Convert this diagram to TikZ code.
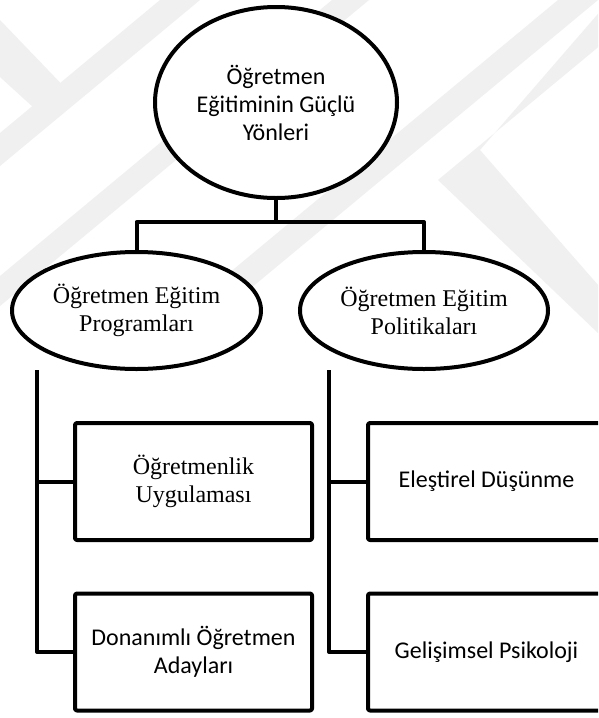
\documentclass[tikz,border=0pt]{standalone}
\usepackage{fontspec}
\setmainfont{Liberation Serif}
\newfontfamily\calib{Carlito}
\usetikzlibrary{shapes.geometric}
\begin{document}
\begin{tikzpicture}[x=1pt,y=-1pt,line width=4pt,line join=round,
  oval/.style={ellipse,draw,fill=white,inner sep=0pt,align=center},
  boxnode/.style={draw,fill=white,rounded corners=2pt,minimum width=237pt,minimum height=117pt,inner sep=0pt,align=center},
  sanstext/.style={font=\calib\fontsize{24}{28}\selectfont},
  seriftext/.style={font=\fontsize{24}{28}\selectfont},
  wm/.style={fill=black!6,draw=none}]
\useasboundingbox (0,0) rectangle (598,718);
\fill[white] (0,0) rectangle (598,718);
% faint watermark bands (upper part only)
\begin{scope}
\clip (0,0) rectangle (598,333);
\fill[wm] (160,0) -- (200,0) -- (0,166) -- (0,133) -- cycle;
\fill[wm] (0,20) -- (72,95) -- (45,118) -- (0,77) -- cycle;
\fill[wm] (332,0) -- (369,0) -- (0,306) -- (0,276) -- cycle;
\fill[wm] (558,0) -- (598,0) -- (198,332) -- (158,332) -- cycle;
\fill[wm] (610,0) -- (655,0) -- (438,180) -- (598,333) -- (640,333) -- (480,150) -- cycle;
\end{scope}
% nodes
\node[oval,sanstext,minimum width=242pt,minimum height=191pt] (top) at (276,102.5) {Öğretmen\\Eğitiminin Güçlü\\Yönleri};
\node[oval,seriftext,minimum width=249pt,minimum height=117pt] (l) at (136.5,310.5) {Öğretmen Eğitim\\Programları};
\node[oval,seriftext,minimum width=248pt,minimum height=117pt] (r) at (424,310.5) {Öğretmen Eğitim\\Politikaları};
\coordinate (bar) at (0,222);
\draw (top.south) -- (top.south |- bar);
\draw (l.north) -- (l.north |- bar) -- (r.north |- bar) -- (r.north);
\coordinate (lt) at (37,370);
\coordinate (rt) at (329,370);
\begin{scope}
\clip (0,0) rectangle (598,718);
\node[boxnode,seriftext] (b1) at (193.5,481.5) {Öğretmenlik\\Uygulaması};
\node[boxnode,sanstext] (b2) at (193.5,652) {Donanımlı Öğretmen\\Adayları};
\node[boxnode,sanstext] (b3) at (486.5,481.5) {Eleştirel Düşünme};
\node[boxnode,sanstext] (b4) at (486.5,652) {Gelişimsel Psikoloji};
\end{scope}
\draw (lt) |- (b1.west);
\draw (lt) |- (b2.west);
\draw (rt) |- (b3.west);
\draw (rt) |- (b4.west);
\end{tikzpicture}
\end{document}
